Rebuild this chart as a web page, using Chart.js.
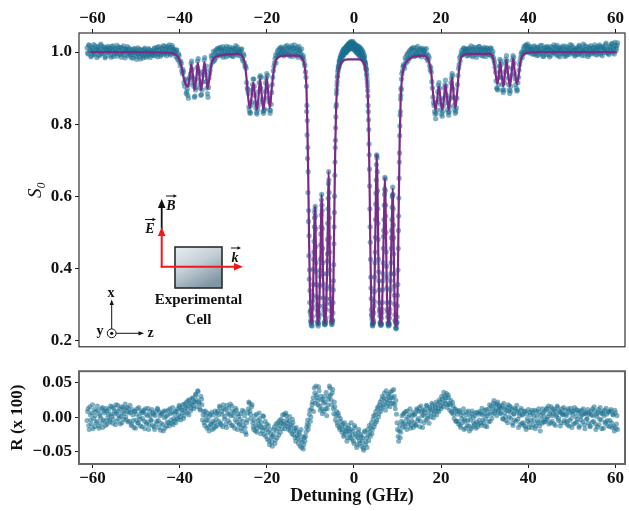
<!DOCTYPE html>
<html>
<head>
<meta charset="utf-8">
<script src="https://cdn.jsdelivr.net/npm/chart.js@4.4.0/dist/chart.umd.min.js"></script>
<style>
  body { margin: 0; background: #fff; width: 629px; height: 511px; position: relative; overflow: hidden; }
  #top { position: absolute; left: 0; top: 0; }
  #bot { position: absolute; left: 0; top: 358px; }
  #inset { position: absolute; left: 0; top: 0; pointer-events: none; }
  #inset text { font-family: 'Liberation Serif', 'Times New Roman', serif; font-weight: bold; fill: #111; }
</style>
</head>
<body>
<canvas id="top" width="629" height="360"></canvas>
<canvas id="bot" width="629" height="153"></canvas>

<svg id="inset" width="629" height="511" viewBox="0 0 629 511">
  <defs>
    <linearGradient id="cellFill" x1="0" y1="0" x2="0.6" y2="1">
      <stop offset="0" stop-color="#e8eef1"/>
      <stop offset="0.5" stop-color="#c3cfd6"/>
      <stop offset="1" stop-color="#8196a3"/>
    </linearGradient>
  </defs>
  <!-- cell -->
  <rect x="175" y="247" width="47" height="41" fill="url(#cellFill)" stroke="#2b2b2b" stroke-width="1.6"/>
  <!-- B (black) -->
  <line x1="161.7" y1="229" x2="161.7" y2="206" stroke="#111" stroke-width="1.8"/>
  <polygon points="161.7,199 157.9,208 165.5,208" fill="#111"/>
  <!-- E (red, vertical) and k (red, horizontal) -->
  <line x1="161.7" y1="267.5" x2="161.7" y2="234" stroke="#f01818" stroke-width="2"/>
  <polygon points="161.7,227 157.9,236 165.5,236" fill="#f01818"/>
  <line x1="160.7" y1="266.7" x2="236" y2="266.7" stroke="#f01818" stroke-width="2"/>
  <polygon points="243,266.7 234,262.9 234,270.5" fill="#f01818"/>
  <!-- vector labels -->
  <text x="150" y="233" font-size="14" font-style="italic" text-anchor="middle">E</text>
  <line x1="145" y1="219.5" x2="154" y2="219.5" stroke="#111" stroke-width="1"/>
  <polygon points="156,219.5 152.5,217.8 152.5,221.2" fill="#111"/>
  <text x="171" y="209.5" font-size="14" font-style="italic" text-anchor="middle">B</text>
  <line x1="166" y1="196" x2="175" y2="196" stroke="#111" stroke-width="1"/>
  <polygon points="177,196 173.5,194.3 173.5,197.7" fill="#111"/>
  <text x="235" y="262" font-size="14" font-style="italic" text-anchor="middle">k</text>
  <line x1="231" y1="248" x2="239" y2="248" stroke="#111" stroke-width="1"/>
  <polygon points="241,248 237.5,246.3 237.5,249.7" fill="#111"/>
  <text x="198.5" y="304" font-size="15" text-anchor="middle">Experimental</text>
  <text x="198.5" y="324" font-size="15" text-anchor="middle">Cell</text>
  <!-- coordinate triad -->
  <circle cx="111.7" cy="333.3" r="4.4" fill="none" stroke="#111" stroke-width="1"/>
  <circle cx="111.7" cy="333.3" r="1.6" fill="#111"/>
  <line x1="111.7" y1="329" x2="111.7" y2="304" stroke="#111" stroke-width="1"/>
  <polygon points="111.7,299.5 109.6,305 113.8,305" fill="#111"/>
  <line x1="116.1" y1="333.3" x2="139" y2="333.3" stroke="#111" stroke-width="1"/>
  <polygon points="144,333.3 138.5,331.2 138.5,335.4" fill="#111"/>
  <text x="111" y="297" font-size="14" text-anchor="middle">x</text>
  <text x="100" y="335" font-size="14" text-anchor="middle">y</text>
  <text x="150.5" y="337" font-size="14" text-anchor="middle">z</text>
</svg>

<script>
// ---- axis ticks ----
const xTicks = [-60, -40, -20, 0, 20, 40, 60];
const s0Ticks = [0.2, 0.4, 0.6, 0.8, 1.0];
const rTicks = [-0.05, 0, 0.05];

// ---- fitted curve (purple) ----
const fitX = [
  -60.5, -50, -42, -41, -40.5, -40, -39.5, -39, -38.5, -38.1,
  -37.7, -37.35, -37, -36.6, -36.2, -35.85, -35.5, -35.1, -34.7, -34.35,
  -34, -33.6, -33.2, -32.8, -32.4, -32, -31, -27, -26, -25.5,
  -25, -24.6, -24.2, -23.9, -23.5, -23.1, -22.7, -22.3, -21.9, -21.55,
  -21.2, -20.8, -20.4, -20.05, -19.7, -19.3, -18.9, -18.5, -18.1, -17.5,
  -16, -13, -12, -11.5, -11.25, -11, -10.9, -10.7, -10.5, -10.3,
  -10.1, -9.9, -9.7, -9.5, -9.3, -9.1, -8.92, -8.8, -8.6, -8.4,
  -8.2, -8.0, -7.8, -7.6, -7.42, -7.3, -7.1, -6.9, -6.65, -6.4,
  -6.2, -6.0, -5.82, -5.7, -5.5, -5.3, -5.05, -4.85, -4.7, -4.5,
  -4.3, -4.1, -3.9, -3.6, -3.2, -2.6, -1.8, -1.2, 1.2, 1.8,
  2.2, 2.5, 2.8, 3.0, 3.2, 3.4, 3.6, 3.8, 4.0, 4.15,
  4.3, 4.5, 4.7, 4.9, 5.1, 5.24, 5.4, 5.6, 5.8, 6.0,
  6.2, 6.4, 6.6, 6.8, 7.0, 7.12, 7.3, 7.5, 7.7, 7.95,
  8.2, 8.4, 8.6, 8.8, 8.92, 9.1, 9.3, 9.5, 9.7, 9.9,
  10.1, 10.3, 10.5, 10.7, 10.9, 11.2, 11.6, 12, 13, 14,
  16, 16.75, 17.25, 17.75, 18.2, 18.7, 19.1, 19.5, 19.9, 20.25,
  20.6, 21.0, 21.35, 21.75, 22.1, 22.5, 22.9, 23.3, 23.7, 24.1,
  24.5, 25, 26, 31, 31.75, 32.2, 32.5, 32.9, 33.2, 33.55,
  33.9, 34.3, 34.65, 35.0, 35.4, 35.8, 36.2, 36.55, 36.95, 37.4,
  37.8, 38.2, 38.6, 39.5, 42, 60.3
];
const fitY = [
  1.0, 1.0, 0.998, 0.993, 0.988, 0.978, 0.955, 0.925, 0.908, 0.904,
  0.93, 0.966, 0.94, 0.895, 0.925, 0.97, 0.94, 0.895, 0.925, 0.972,
  0.945, 0.9, 0.925, 0.96, 0.978, 0.985, 0.99, 0.995, 0.993, 0.985,
  0.965, 0.92, 0.865, 0.845, 0.875, 0.915, 0.88, 0.84, 0.875, 0.925,
  0.885, 0.84, 0.875, 0.93, 0.89, 0.845, 0.895, 0.94, 0.97, 0.985,
  0.99, 0.99, 0.985, 0.972, 0.955, 0.925, 0.90, 0.80, 0.66, 0.48,
  0.33, 0.262, 0.246, 0.285, 0.39, 0.51, 0.572, 0.50, 0.35, 0.265,
  0.246, 0.28, 0.37, 0.49, 0.605, 0.55, 0.38, 0.28, 0.246, 0.28,
  0.38, 0.52, 0.668, 0.60, 0.39, 0.28, 0.247, 0.28, 0.37, 0.56,
  0.73, 0.84, 0.90, 0.942, 0.963, 0.974, 0.979, 0.98, 0.98, 0.977,
  0.972, 0.963, 0.944, 0.92, 0.87, 0.78, 0.62, 0.42, 0.29, 0.255,
  0.243, 0.26, 0.34, 0.49, 0.65, 0.715, 0.62, 0.43, 0.31, 0.255,
  0.243, 0.27, 0.36, 0.48, 0.60, 0.65, 0.54, 0.37, 0.275, 0.243,
  0.27, 0.36, 0.48, 0.59, 0.622, 0.48, 0.32, 0.25, 0.238, 0.27,
  0.40, 0.60, 0.76, 0.86, 0.91, 0.945, 0.962, 0.972, 0.984, 0.988,
  0.99, 0.985, 0.972, 0.94, 0.88, 0.84, 0.87, 0.905, 0.865, 0.84,
  0.865, 0.91, 0.875, 0.84, 0.875, 0.93, 0.88, 0.845, 0.89, 0.95,
  0.982, 0.99, 0.995, 0.995, 0.99, 0.968, 0.94, 0.912, 0.93, 0.972,
  0.935, 0.905, 0.94, 0.978, 0.935, 0.905, 0.945, 0.982, 0.94, 0.912,
  0.935, 0.972, 0.988, 0.997, 1.0, 1.0
];

// ---- measured S0 (teal dots) ----
const coarseStep = 0.25;
const fineStep = 0.1;

const leftStart = -61.25;          // -61.25 .. -11.0
const leftS0 = [
  1.012, 0.995, 1.018, 1.004, 0.99, 1.01, 1.021, 0.996, 1.007, 0.985, 1.015, 1.002, 0.992, 1.019, 1.008, 0.997, 1.013, 0.988, 1.005, 1.016,
  0.999, 1.011, 0.986, 1.006, 1.017, 0.994, 1.009, 1.001, 0.989, 1.014, 1.004, 0.993, 1.012, 0.998, 1.008, 0.984, 1.003, 1.015, 0.996, 1.007,
  0.992, 1.006, 0.983, 0.999, 1.01, 0.988, 1.002, 0.994, 1.008, 0.981, 0.997, 1.005, 0.99, 1.011, 0.986, 1.001, 0.993, 1.007, 0.985, 0.998,
  1.003, 0.991, 1.012, 0.996, 1.006, 0.987, 1.015, 1.0, 0.993, 1.01, 1.018, 0.997, 1.008, 0.99, 1.016, 1.004, 1.011, 0.995, 1.019, 1.007,
  1.008, 0.996, 1.004, 0.983, 0.995, 0.972, 0.975, 0.948, 0.952, 0.915, 0.925, 0.885, 0.898, 0.872, 0.93, 0.94, 0.975, 0.93, 0.905, 0.878,
  0.902, 0.958, 0.982, 0.94, 0.9, 0.882, 0.918, 0.936, 0.985, 0.962, 0.9, 0.875, 0.928, 0.95, 0.99, 0.972, 1.002, 0.979, 1.005, 0.991,
  1.008, 0.992, 1.013, 0.998, 1.004, 0.986, 1.01, 0.995, 1.016, 1.001, 0.99, 1.007, 0.997, 1.012, 0.988, 1.003, 1.009, 0.994, 1.014, 1.0,
  1.002, 0.99, 1.009, 0.976, 0.99, 0.96, 0.955, 0.9, 0.885, 0.838, 0.832, 0.862, 0.91, 0.925, 0.88, 0.845, 0.828, 0.852, 0.915, 0.935,
  0.93, 0.87, 0.83, 0.842, 0.915, 0.94, 0.905, 0.862, 0.83, 0.855, 0.91, 0.948, 0.97, 0.992, 0.985, 1.005, 0.993, 1.012, 0.998, 1.009,
  1.004, 0.992, 1.015, 1.001, 0.995, 1.012, 0.989, 1.007, 1.018, 0.996, 1.01, 1.003, 0.991, 1.013, 0.998, 1.006, 0.99, 1.009, 0.985, 0.978,
  0.962, 0.93
];
const leftStartB = -61.125;        // -61.125 .. -11.125 (interleaved sweep)
const leftS0b = [
  0.998, 1.02, 1.006, 0.987, 1.013, 1.0, 0.993, 1.017, 1.004, 1.011, 0.99, 1.008, 1.022, 0.996, 1.003, 1.014, 0.984, 1.009, 0.999, 1.012,
  1.005, 0.991, 1.016, 1.002, 0.988, 1.01, 0.997, 1.019, 1.006, 0.995, 1.013, 0.986, 1.0, 1.017, 0.992, 1.009, 1.004, 0.99, 1.011, 0.998,
  0.985, 0.999, 1.009, 0.992, 1.003, 0.98, 1.012, 0.996, 0.987, 1.006, 0.994, 0.984, 1.008, 0.997, 1.002, 0.989, 1.01, 0.995, 1.004, 0.991,
  0.998, 1.009, 0.99, 1.004, 1.014, 0.995, 1.007, 0.989, 1.012, 1.002, 0.994, 1.016, 1.001, 1.01, 0.996, 1.02, 0.992, 1.006, 1.013, 0.997,
  1.001, 0.988, 1.006, 0.978, 0.99, 0.962, 0.968, 0.94, 0.945, 0.905, 0.922, 0.89, 0.88, 0.91, 0.925, 0.968, 0.952, 0.915, 0.875, 0.895,
  0.925, 0.975, 0.948, 0.912, 0.88, 0.895, 0.945, 0.978, 0.95, 0.918, 0.885, 0.902, 0.94, 0.962, 0.982, 0.99, 0.975, 0.998, 0.984, 1.01,
  0.996, 1.011, 0.99, 1.006, 1.015, 0.993, 1.003, 0.987, 1.009, 0.998, 1.014, 0.992, 1.005, 0.989, 1.01, 0.997, 1.018, 1.002, 0.991, 1.007,
  0.998, 1.006, 0.982, 0.995, 0.97, 0.962, 0.915, 0.895, 0.848, 0.83, 0.852, 0.895, 0.925, 0.905, 0.858, 0.832, 0.84, 0.89, 0.93, 0.9,
  0.862, 0.835, 0.838, 0.89, 0.928, 0.935, 0.872, 0.84, 0.838, 0.888, 0.93, 0.96, 0.982, 0.97, 0.998, 0.99, 1.008, 0.996, 1.014, 1.001,
  0.99, 1.009, 0.997, 1.019, 1.006, 0.993, 1.014, 1.0, 0.988, 1.011, 1.02, 0.994, 1.007, 0.986, 1.016, 1.003, 0.996, 0.982, 0.99, 0.968,
  0.945
];

const midStart = -10.9;            // -10.9 .. 10.9 (fine)
const midS0 = [
  0.905, 0.852, 0.81, 0.735, 0.668, 0.56, 0.49, 0.395, 0.338, 0.283,
  0.268, 0.245, 0.252, 0.24, 0.29, 0.325, 0.398, 0.445, 0.515, 0.555,
  0.572, 0.51, 0.415, 0.355, 0.298, 0.27, 0.245, 0.24, 0.26, 0.275,
  0.318, 0.378, 0.425, 0.495, 0.548, 0.605, 0.56, 0.455, 0.385, 0.318,
  0.285, 0.25, 0.244, 0.252, 0.248, 0.286, 0.315, 0.385, 0.44, 0.525,
  0.594, 0.668, 0.61, 0.485, 0.395, 0.315, 0.282, 0.252, 0.245, 0.25,
  0.255, 0.305, 0.365, 0.468, 0.555, 0.658, 0.735, 0.79, 0.848, 0.885,
  0.908, 0.93, 0.945, 0.96, 0.958, 0.975, 0.972, 0.985, 0.978, 0.992,
  0.984, 0.998, 0.99, 1.004, 0.993, 1.008, 0.996, 1.01, 1.001, 1.012,
  0.998, 1.015, 1.004, 1.018, 1.006, 1.021, 1.009, 1.024, 1.011, 1.026,
  1.014, 1.028, 1.016, 1.03, 1.018, 1.027, 1.02, 1.029, 1.015, 1.024,
  1.012, 1.022, 1.008, 1.02, 1.005, 1.016, 1.002, 1.018, 1.004, 1.014,
  0.999, 1.015, 1.002, 1.012, 0.995, 1.01, 0.992, 1.006, 0.989, 1.003,
  0.986, 0.998, 0.982, 0.99, 0.975, 0.968, 0.96, 0.952, 0.94, 0.925,
  0.905, 0.878, 0.835, 0.785, 0.715, 0.628, 0.515, 0.425, 0.345, 0.285,
  0.268, 0.245, 0.24, 0.25, 0.255, 0.295, 0.335, 0.415, 0.486, 0.578,
  0.645, 0.715, 0.706, 0.615, 0.525, 0.425, 0.365, 0.305, 0.28, 0.25,
  0.242, 0.248, 0.245, 0.275, 0.305, 0.365, 0.415, 0.488, 0.535, 0.605,
  0.652, 0.615, 0.545, 0.445, 0.375, 0.305, 0.28, 0.248, 0.24, 0.25,
  0.245, 0.275, 0.305, 0.365, 0.415, 0.485, 0.535, 0.598, 0.625, 0.565,
  0.485, 0.385, 0.325, 0.27, 0.255, 0.235, 0.232, 0.25, 0.265, 0.325,
  0.395, 0.505, 0.595, 0.695, 0.768, 0.825, 0.87, 0.9, 0.925
];
const midStartB = -10.85;          // -10.85 .. 10.85 (interleaved fine sweep)
const midS0b = [
  0.835, 0.77, 0.705, 0.61, 0.53, 0.435, 0.37, 0.305, 0.278, 0.255,
  0.25, 0.241, 0.253, 0.265, 0.31, 0.355, 0.425, 0.475, 0.54, 0.563,
  0.545, 0.46, 0.39, 0.32, 0.283, 0.252, 0.249, 0.247, 0.268, 0.295,
  0.35, 0.395, 0.465, 0.515, 0.59, 0.575, 0.51, 0.415, 0.355, 0.296,
  0.272, 0.247, 0.243, 0.254, 0.262, 0.302, 0.343, 0.42, 0.48, 0.565,
  0.635, 0.645, 0.54, 0.445, 0.35, 0.302, 0.265, 0.255, 0.244, 0.256,
  0.276, 0.34, 0.41, 0.515, 0.6, 0.695, 0.755, 0.82, 0.855, 0.895,
  0.918, 0.935, 0.95, 0.955, 0.966, 0.962, 0.978, 0.97, 0.986, 0.975,
  0.992, 0.983, 0.998, 0.988, 1.003, 0.992, 1.007, 0.997, 1.01, 1.003,
  1.012, 0.999, 1.016, 1.003, 1.019, 1.006, 1.02, 1.009, 1.023, 1.008,
  1.021, 1.011, 1.025, 1.012, 1.022, 1.01, 1.024, 1.009, 1.021, 1.006,
  1.019, 1.004, 1.016, 1.001, 1.013, 0.998, 1.011, 0.996, 1.008, 0.993,
  1.006, 0.99, 1.004, 0.988, 1.0, 0.985, 0.998, 0.982, 0.994, 0.98,
  0.99, 0.976, 0.984, 0.97, 0.972, 0.965, 0.955, 0.95, 0.935, 0.915,
  0.893, 0.852, 0.812, 0.745, 0.675, 0.565, 0.472, 0.375, 0.316, 0.272,
  0.258, 0.242, 0.247, 0.248, 0.276, 0.308, 0.376, 0.445, 0.535, 0.608,
  0.688, 0.712, 0.668, 0.565, 0.48, 0.39, 0.34, 0.286, 0.268, 0.247,
  0.247, 0.242, 0.262, 0.286, 0.34, 0.385, 0.455, 0.505, 0.575, 0.62,
  0.648, 0.575, 0.5, 0.405, 0.345, 0.286, 0.265, 0.244, 0.246, 0.242,
  0.262, 0.286, 0.34, 0.385, 0.455, 0.505, 0.57, 0.603, 0.605, 0.52,
  0.44, 0.35, 0.3, 0.256, 0.249, 0.234, 0.244, 0.25, 0.296, 0.355,
  0.455, 0.545, 0.65, 0.72, 0.795, 0.835, 0.88, 0.895
];

const rightStart = 11.0;           // 11.0 .. 60.5
const rightS0 = [
  0.94, 0.96, 0.962, 0.985, 0.97, 0.996, 0.982, 1.004, 0.988, 1.01, 0.995, 1.006, 0.99, 1.012, 0.998, 1.003, 0.992, 1.009, 0.987, 1.005,
  0.998, 1.008, 0.985, 0.996, 0.975, 0.984, 0.95, 0.945, 0.9, 0.86, 0.835, 0.815, 0.84, 0.89, 0.915, 0.87, 0.84, 0.822, 0.85, 0.9,
  0.922, 0.88, 0.84, 0.825, 0.848, 0.915, 0.94, 0.898, 0.852, 0.83, 0.845, 0.91, 0.955, 0.985, 0.99, 1.005, 0.995, 1.012, 0.999, 1.008,
  1.002, 0.99, 1.011, 0.996, 1.006, 0.987, 1.014, 1.0, 0.993, 1.009, 0.998, 1.016, 1.004, 0.991, 1.01, 0.997, 1.007, 0.988, 1.012, 1.001,
  1.006, 0.992, 1.01, 0.995, 0.985, 0.97, 0.945, 0.9, 0.895, 0.93, 0.98, 0.965, 0.91, 0.888, 0.915, 0.97, 0.99, 0.958, 0.91, 0.885,
  0.905, 0.955, 0.99, 0.97, 0.925, 0.9, 0.895, 0.93, 0.965, 0.985, 1.0, 0.995, 1.015, 1.002, 1.02, 1.008, 1.012, 0.998, 1.016, 1.005,
  1.008, 0.994, 1.014, 1.001, 0.99, 1.011, 1.003, 1.018, 0.996, 1.007, 0.988, 1.012, 1.0, 1.016, 0.993, 1.009, 1.004, 0.991, 1.013, 0.998,
  1.006, 1.015, 0.992, 1.003, 1.011, 0.987, 1.008, 0.999, 1.017, 0.995, 1.005, 0.99, 1.013, 1.001, 0.994, 1.01, 1.019, 0.997, 1.006, 0.989,
  1.004, 1.012, 0.993, 1.016, 1.0, 0.991, 1.009, 1.002, 1.018, 0.996, 1.007, 0.988, 1.014, 1.003, 0.995, 1.011, 0.999, 1.02, 1.005, 0.992,
  1.01, 0.997, 1.015, 1.003, 0.99, 1.012, 1.006, 1.021, 0.998, 1.008, 0.993, 1.017, 1.002, 1.024, 1.009, 0.995, 1.019, 1.011, 1.026
];
const rightStartB = 11.125;        // 11.125 .. 60.375 (interleaved sweep)
const rightS0b = [
  0.948, 0.965, 0.955, 0.978, 0.991, 0.975, 1.0, 0.984, 1.008, 0.993, 1.013, 0.988, 1.004, 0.996, 1.016, 0.99, 1.007, 0.998, 1.011, 0.994,
  1.004, 0.993, 1.01, 0.98, 0.99, 0.962, 0.958, 0.918, 0.875, 0.852, 0.828, 0.83, 0.862, 0.908, 0.9, 0.855, 0.828, 0.835, 0.872, 0.91,
  0.905, 0.86, 0.832, 0.835, 0.872, 0.928, 0.935, 0.875, 0.84, 0.835, 0.872, 0.935, 0.965, 0.975, 0.998, 0.992, 1.01, 0.997, 1.006, 0.99,
  1.009, 0.995, 1.004, 1.017, 0.991, 1.007, 0.998, 1.012, 0.986, 1.003, 1.015, 0.994, 1.008, 1.0, 0.989, 1.013, 1.005, 0.996, 1.01, 0.993,
  0.998, 1.012, 0.989, 1.002, 0.978, 0.958, 0.92, 0.898, 0.91, 0.962, 0.975, 0.93, 0.895, 0.895, 0.945, 0.98, 0.975, 0.928, 0.895, 0.892,
  0.935, 0.978, 0.985, 0.94, 0.91, 0.892, 0.915, 0.95, 0.975, 0.995, 0.985, 1.008, 0.998, 1.018, 1.005, 1.022, 1.0, 1.014, 1.007, 0.995,
  1.002, 1.017, 0.995, 1.009, 1.014, 0.992, 1.006, 1.0, 1.019, 0.989, 1.011, 1.004, 0.994, 1.013, 1.007, 0.987, 1.015, 1.003, 0.999, 1.02,
  0.997, 1.008, 1.019, 0.99, 1.005, 1.014, 0.996, 1.012, 1.002, 0.988, 1.016, 1.006, 0.994, 1.01, 1.021, 0.999, 1.004, 1.013, 0.992, 1.008,
  0.995, 1.008, 1.019, 0.997, 1.011, 1.004, 1.022, 0.99, 1.006, 1.015, 1.0, 0.993, 1.01, 1.018, 0.998, 1.005, 1.013, 0.994, 1.009, 1.016,
  1.004, 1.02, 0.994, 1.011, 1.016, 0.999, 1.008, 1.025, 1.003, 0.996, 1.014, 1.006, 1.022, 0.998, 1.012, 1.027, 1.004, 1.018
];

// ---- residuals R (x 100) ----
const resStart = -61.25;           // -61.25 .. 60.5
const resR = [
  -0.005, 0.012, -0.018, 0.003, -0.01, 0.018, -0.002, -0.014, 0.008, -0.006, 0.01, -0.016, 0.002, -0.009, 0.014, -0.004, 0.006, -0.012, 0.009, -0.001,
  0.011, -0.007, 0.004, 0.015, -0.003, 0.009, -0.011, 0.006, 0.017, -0.002, 0.012, 0.001, -0.008, 0.014, 0.005, 0.019, -0.004, 0.008, 0.013, -0.006,
  0.007, -0.01, 0.003, -0.015, 0.009, -0.004, 0.012, -0.008, 0.001, -0.013, 0.006, -0.002, 0.01, -0.017, 0.004, -0.007, 0.013, -0.011, 0.002, -0.005,
  -0.012, 0.004, -0.018, 0.008, -0.006, 0.011, -0.015, 0.002, -0.009, 0.006, -0.02, -0.001, 0.009, -0.013, 0.003, -0.008, 0.012, -0.004, 0.007, -0.011,
  -0.006, 0.008, -0.002, 0.012, 0.003, 0.015, -0.004, 0.01, 0.018, 0.002, 0.013, 0.021, 0.006, 0.016, 0.025, 0.009, 0.019, 0.028, 0.012, 0.022,
  0.032, 0.015, 0.037, 0.02, 0.01, 0.026, -0.004, 0.008, -0.012, 0.002, -0.016, -0.005, -0.02, 0.004, -0.01, -0.018, 0.003, -0.008, -0.014, 0.006,
  0.009, -0.006, 0.014, -0.011, 0.004, 0.018, -0.003, 0.011, -0.015, 0.006, 0.013, -0.008, 0.002, 0.016, -0.012, 0.007, -0.004, 0.01, -0.018, 0.001,
  -0.01, 0.005, -0.02, -0.006, 0.008, -0.015, -0.025, -0.004, 0.012, 0.02, 0.004, 0.015, -0.008, -0.018, 0.002, -0.012, -0.022, -0.005, 0.006, -0.014,
  -0.008, -0.02, 0.001, -0.015, -0.028, -0.01, -0.022, -0.035, -0.018, -0.03, -0.042, -0.025, -0.014, -0.033, -0.02, -0.008, -0.026, -0.012, -0.003, -0.017,
  -0.006, 0.004, -0.012, 0.002, -0.009, -0.018, 0.001, -0.014, -0.024, -0.008, -0.02, -0.03, -0.015, -0.027, -0.038, -0.022, -0.033, -0.044, -0.028, -0.04,
  -0.035, -0.022, -0.01, -0.018, 0.004, -0.006, 0.012, 0.022, 0.008, 0.035, 0.045, 0.028, 0.018, 0.038, 0.01, 0.025, 0.005, 0.02, 0.03, 0.012,
  0.002, 0.018, 0.03, 0.042, 0.025, 0.035, 0.012, 0.022, -0.004, 0.008, -0.012, 0.002, -0.018, -0.006, -0.022, -0.01, -0.025, -0.015, -0.02, -0.03,
  -0.012, -0.025, -0.018, -0.032, -0.02, -0.038, -0.015, -0.028, -0.04, -0.022, -0.034, -0.025, -0.042, -0.03, -0.048, -0.02, -0.036, -0.044, -0.026, -0.012,
  -0.028, -0.008, -0.018, 0.002, -0.01, 0.008, -0.004, 0.015, 0.005, 0.022, 0.012, 0.03, 0.018, 0.035, 0.01, 0.026, 0.02, 0.033, 0.015, 0.028,
  0.038, 0.02, 0.03, 0.012, 0.004, -0.018, -0.035, -0.012, -0.022, 0.002, -0.008, 0.006, -0.014, -0.003, 0.009, -0.01, 0.003, -0.016, -0.005, 0.007,
  -0.008, 0.005, -0.012, 0.01, -0.002, 0.014, -0.006, 0.008, -0.015, 0.003, 0.011, -0.004, 0.016, 0.002, -0.009, 0.012, 0.006, 0.018, -0.001, 0.009,
  0.014, 0.003, 0.019, 0.008, 0.022, 0.012, 0.026, 0.015, 0.03, 0.02, 0.034, 0.018, 0.028, 0.01, 0.024, 0.006, 0.016, -0.002, 0.011, -0.006,
  0.004, -0.01, 0.008, -0.015, -0.002, 0.006, -0.018, -0.006, 0.003, -0.012, 0.009, -0.02, -0.004, 0.005, -0.014, -0.008, 0.002, -0.016, 0.007, -0.01,
  -0.004, 0.006, -0.012, 0.003, -0.008, 0.01, -0.002, -0.014, 0.005, 0.012, -0.006, 0.016, 0.004, 0.02, 0.009, 0.018, 0.002, 0.022, 0.011, 0.015,
  0.006, 0.017, -0.003, 0.012, 0.001, 0.014, -0.008, 0.009, 0.016, -0.002, 0.011, -0.012, 0.004, 0.013, -0.006, 0.008, -0.015, 0.002, 0.01, -0.009,
  0.004, -0.012, 0.008, -0.018, -0.002, 0.011, -0.009, 0.003, -0.015, 0.006, -0.005, 0.01, -0.013, 0.001, -0.008, 0.007, -0.02, -0.003, 0.012, -0.007,
  0.008, -0.004, 0.013, 0.001, -0.01, 0.009, 0.015, -0.006, 0.005, 0.011, -0.012, 0.003, 0.014, -0.002, 0.007, -0.008, 0.012, 0.004, -0.005, 0.01,
  0.002, -0.011, 0.009, -0.005, 0.013, -0.015, 0.004, 0.008, -0.009, 0.011, -0.003, 0.006, -0.013, 0.001, 0.01, -0.007, 0.005, -0.017, 0.007, -0.002,
  -0.009, 0.006, -0.014, 0.003, 0.012, -0.006, 0.009, -0.018, 0.001, 0.007, -0.011, 0.014, -0.004, 0.005, -0.016, 0.01, -0.007, 0.004, -0.012, 0.008,
  -0.005, 0.011, -0.015, 0.003, -0.02, 0.006, -0.01, -0.018
];
const resStartB = -61.125;         // -61.125 .. 60.375 (interleaved sweep)
const resRb = [
  0.008, -0.012, 0.015, -0.004, 0.006, -0.017, 0.011, 0.002, -0.008, 0.016, -0.013, 0.005, -0.002, 0.012, -0.015, 0.009, -0.006, 0.013, -0.01, 0.004,
  -0.004, 0.016, 0.001, -0.009, 0.013, 0.004, 0.018, -0.006, 0.009, 0.002, -0.01, 0.015, 0.007, -0.003, 0.011, 0.0, 0.014, -0.007, 0.006, 0.017,
  -0.012, 0.011, -0.005, 0.008, -0.016, 0.004, -0.009, 0.014, -0.003, 0.009, -0.014, 0.007, -0.006, 0.012, -0.01, 0.002, -0.018, 0.008, -0.004, 0.011,
  0.006, -0.014, 0.002, -0.01, 0.013, -0.005, 0.007, -0.019, 0.004, -0.011, 0.009, -0.016, 0.001, -0.007, 0.01, -0.013, 0.005, -0.009, 0.014, -0.002,
  0.005, -0.008, 0.009, -0.003, 0.017, 0.001, 0.012, 0.006, -0.002, 0.019, 0.008, 0.014, 0.024, 0.003, 0.02, 0.013, 0.027, 0.016, 0.022, 0.033,
  0.025, 0.038, 0.022, 0.012, 0.03, 0.018, 0.003, -0.008, 0.009, -0.004, 0.006, -0.014, 0.001, -0.011, 0.007, -0.006, -0.016, 0.009, -0.003, -0.012,
  0.003, 0.016, -0.009, 0.008, -0.014, 0.012, 0.001, -0.01, 0.017, -0.005, 0.004, 0.019, -0.012, 0.009, 0.002, -0.016, 0.013, -0.007, 0.005, -0.011,
  -0.003, -0.016, 0.01, -0.012, 0.002, -0.022, -0.008, 0.006, 0.022, 0.009, -0.002, 0.018, -0.014, -0.005, -0.02, 0.004, -0.016, -0.01, -0.002, -0.024,
  -0.015, 0.002, -0.025, -0.006, -0.018, -0.032, -0.012, -0.04, -0.024, -0.036, -0.028, -0.018, -0.038, -0.01, -0.03, -0.016, -0.005, -0.022, -0.009, 0.003,
  -0.01, -0.017, 0.006, -0.004, -0.014, -0.006, -0.02, -0.011, -0.003, -0.026, -0.016, -0.035, -0.02, -0.031, -0.025, -0.042, -0.018, -0.036, -0.046, -0.03,
  -0.028, -0.015, -0.004, -0.012, 0.01, 0.0, 0.018, 0.028, 0.042, 0.02, 0.032, 0.024, 0.044, 0.016, 0.03, 0.012, 0.026, 0.008, 0.022, 0.036,
  0.012, 0.026, 0.045, 0.032, 0.018, 0.04, 0.005, 0.015, 0.002, -0.008, 0.006, -0.015, -0.002, -0.012, -0.018, -0.028, -0.008, -0.022, -0.035, -0.016,
  -0.02, -0.03, -0.008, -0.026, -0.035, -0.012, -0.024, -0.044, -0.03, -0.018, -0.038, -0.028, -0.035, -0.045, -0.022, -0.04, -0.03, -0.018, -0.034, -0.022,
  -0.015, -0.024, -0.003, -0.014, 0.003, -0.007, 0.012, 0.0, 0.018, 0.008, 0.025, 0.015, 0.028, 0.022, 0.038, 0.016, 0.03, 0.024, 0.036, 0.02,
  0.028, 0.04, 0.018, 0.024, -0.008, -0.028, -0.02, -0.03, -0.006, -0.015, 0.004, -0.01, 0.008, -0.018, 0.0, -0.007, 0.012, -0.012, 0.002, -0.015,
  0.003, -0.011, 0.012, -0.005, 0.008, -0.014, 0.016, 0.002, 0.01, -0.008, 0.006, 0.017, -0.002, 0.009, 0.014, 0.0, 0.02, 0.011, 0.004, 0.016,
  0.022, 0.009, 0.013, 0.025, 0.016, 0.03, 0.019, 0.036, 0.024, 0.028, 0.014, 0.032, 0.02, 0.018, 0.008, 0.021, 0.004, 0.012, -0.006, 0.008,
  -0.006, 0.01, -0.012, 0.003, -0.008, 0.012, -0.003, -0.016, 0.007, -0.005, -0.013, 0.002, -0.017, 0.009, -0.001, -0.011, 0.006, -0.007, -0.014, 0.004,
  0.008, -0.009, 0.013, -0.004, 0.005, -0.013, 0.011, 0.002, -0.007, 0.018, 0.007, -0.002, 0.013, 0.024, 0.006, 0.012, 0.019, 0.008, 0.016, 0.005,
  0.013, -0.002, 0.02, 0.006, -0.005, 0.01, 0.018, 0.0, 0.007, 0.014, -0.009, 0.005, -0.004, 0.011, 0.017, -0.003, 0.006, -0.011, 0.013, 0.003,
  -0.008, 0.009, -0.014, 0.005, -0.006, -0.015, 0.007, -0.004, 0.01, -0.011, 0.002, -0.017, 0.008, -0.006, 0.012, -0.013, 0.003, -0.009, 0.006, 0.001,
  -0.007, 0.011, -0.003, 0.016, 0.005, -0.008, 0.002, 0.012, -0.01, 0.008, 0.001, 0.016, -0.005, 0.009, -0.013, 0.006, 0.003, 0.014, -0.008, 0.004,
  -0.006, 0.012, -0.013, 0.006, -0.002, 0.009, -0.01, 0.014, 0.001, -0.007, 0.01, -0.015, 0.008, -0.004, 0.003, 0.012, -0.011, 0.005, -0.003, 0.011,
  0.004, -0.013, 0.009, -0.007, 0.002, 0.015, -0.01, 0.004, -0.014, 0.011, -0.003, 0.006, -0.017, 0.008, 0.002, -0.009, 0.013, -0.005, 0.007, -0.014,
  0.009, -0.008, 0.004, -0.013, 0.01, -0.016, 0.002
];

// ---- helpers ----
const sweep = (x0, step, ys) => ys.map((y, i) => ({ x: +(x0 + i * step).toFixed(3), y }));
const minus = s => s.replace('-', '\u2212');
const serif = "'Liberation Serif', 'Times New Roman', serif";
const tickFont = { family: serif, size: 17, weight: 'bold' };
const dotColor = 'rgba(26, 112, 144, 0.55)';

const frame = {
  id: 'frame',
  afterDraw(c, args, o) {
    const { ctx, chartArea: a } = c;
    ctx.save();
    ctx.strokeStyle = o.color;
    ctx.lineWidth = o.width;
    ctx.strokeRect(a.left, a.top, a.right - a.left, a.bottom - a.top);
    ctx.restore();
  }
};

const tickGrid = { drawOnChartArea: false, drawTicks: true, tickLength: 4, color: '#1a1a1a', lineWidth: 1 };
const setTicks = vals => axis => { axis.ticks = vals.map(v => ({ value: v })); };

const xMin = -63.1, xMax = 62.2;

const s0Dots = [
  ...sweep(leftStart, coarseStep, leftS0),
  ...sweep(leftStartB, coarseStep, leftS0b),
  ...sweep(midStart, fineStep, midS0),
  ...sweep(midStartB, fineStep, midS0b),
  ...sweep(rightStart, coarseStep, rightS0),
  ...sweep(rightStartB, coarseStep, rightS0b)
];
const resDots = [...sweep(resStart, coarseStep, resR), ...sweep(resStartB, coarseStep, resRb)];

// ---- top panel ----
new Chart(document.getElementById('top'), {
  type: 'scatter',
  data: {
    datasets: [
      {
        type: 'line',
        data: fitX.map((x, i) => ({ x, y: fitY[i] })),
        borderColor: '#7a2b8a',
        borderWidth: 2.2,
        pointRadius: 0,
        showLine: true,
        fill: false,
        cubicInterpolationMode: 'monotone',
        order: 0
      },
      {
        data: s0Dots,
        pointRadius: 2.6,
        pointBorderWidth: 0,
        pointBackgroundColor: dotColor,
        order: 1
      }
    ]
  },
  options: {
    responsive: false,
    animation: false,
    layout: { padding: { top: 0, right: 2, bottom: 4, left: 0 } },
    plugins: { legend: { display: false }, tooltip: { enabled: false }, frame: { color: '#333', width: 1.2 } },
    scales: {
      x: {
        type: 'linear', position: 'top', min: xMin, max: xMax,
        afterBuildTicks: setTicks(xTicks),
        afterFit: s => { s.height = 33; },
        grid: tickGrid, border: { display: false },
        ticks: { font: tickFont, color: '#111', padding: 0, maxRotation: 0, callback: v => minus(String(v)) }
      },
      y: {
        min: 0.182, max: 1.053,
        afterBuildTicks: setTicks(s0Ticks),
        afterFit: s => { s.width = 79; },
        grid: tickGrid, border: { display: false },
        ticks: { font: tickFont, color: '#111', padding: 3, callback: v => v.toFixed(1) },
        title: { display: true, text: 'S\u2080', color: '#111', font: { family: serif, size: 19, style: 'italic' }, padding: { top: 25 } }
      }
    }
  },
  plugins: [frame]
});

// ---- bottom panel (residuals) ----
new Chart(document.getElementById('bot'), {
  type: 'scatter',
  data: {
    datasets: [{
      data: resDots,
      pointRadius: 2.5,
      pointBorderWidth: 0,
      pointBackgroundColor: dotColor
    }]
  },
  options: {
    responsive: false,
    animation: false,
    layout: { padding: { top: 8, right: 2, bottom: 0, left: 0 } },
    plugins: { legend: { display: false }, tooltip: { enabled: false }, frame: { color: '#666', width: 2 } },
    scales: {
      x: {
        type: 'linear', position: 'bottom', min: xMin, max: xMax,
        afterBuildTicks: setTicks(xTicks),
        afterFit: s => { s.height = 47; },
        grid: tickGrid, border: { display: false },
        ticks: { font: tickFont, color: '#111', padding: 0, maxRotation: 0, callback: v => minus(String(v)) },
        title: { display: true, text: 'Detuning (GHz)', color: '#111', font: { family: serif, size: 18, weight: 'bold' }, padding: { bottom: 4 } }
      },
      y: {
        min: -0.0678, max: 0.0664,
        afterBuildTicks: setTicks(rTicks),
        afterFit: s => { s.width = 79; },
        grid: tickGrid, border: { display: false },
        ticks: { font: tickFont, color: '#111', padding: 3, callback: v => minus(v.toFixed(2)) },
        title: { display: true, text: 'R (x 100)', color: '#111', font: { family: serif, size: 17, weight: 'bold' }, padding: { top: 7 } }
      }
    }
  },
  plugins: [frame]
});
</script>
</body>
</html>
